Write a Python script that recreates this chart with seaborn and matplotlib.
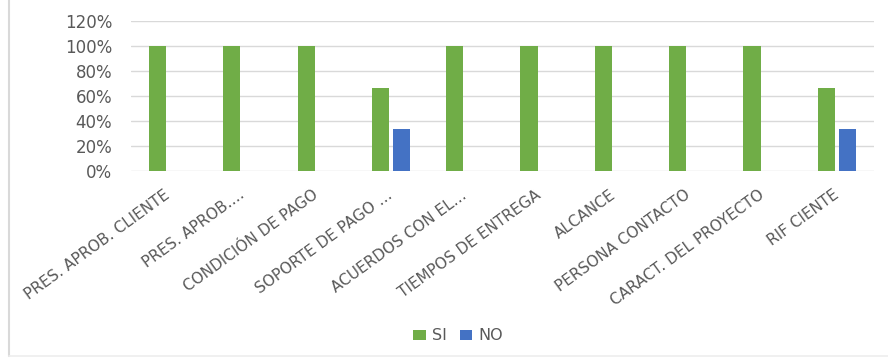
import numpy as np
import pandas as pd
import seaborn as sns
import matplotlib
matplotlib.use("Agg")
import matplotlib.pyplot as plt
from matplotlib.ticker import PercentFormatter
from matplotlib.patches import Patch
from matplotlib.lines import Line2D

# Checklist items and share of answers per item
categorias = [
    "PRES. APROB. CLIENTE",
    "PRES. APROB.…",
    "CONDICIÓN DE PAGO",
    "SOPORTE DE PAGO …",
    "ACUERDOS CON EL…",
    "TIEMPOS DE ENTREGA",
    "ALCANCE",
    "PERSONA CONTACTO",
    "CARACT. DEL PROYECTO",
    "RIF CIENTE",
]
si = [1.0, 1.0, 1.0, 0.667, 1.0, 1.0, 1.0, 1.0, 1.0, 0.667]
no = [0.0, 0.0, 0.0, 0.333, 0.0, 0.0, 0.0, 0.0, 0.0, 0.333]
series = ["SI", "NO"]
colores = {"SI": "#70AD47", "NO": "#4472C4"}
y_ticks = [0.0, 0.2, 0.4, 0.6, 0.8, 1.0, 1.2]

df = pd.DataFrame({
    "categoria": categorias * 2,
    "serie": ["SI"] * len(categorias) + ["NO"] * len(categorias),
    "valor": si + no,
})

sns.set_theme(style="white")
plt.rcParams["font.family"] = ["DejaVu Sans"]
texto = "#595959"
rejilla = "#D9D9D9"

W, H = 888, 358
fig = plt.figure(figsize=(W / 100, H / 100), dpi=100)
ax = fig.add_axes([131 / W, 1 - 171 / H, (874 - 131) / W, 150 / H])

sns.barplot(
    data=df, x="categoria", y="valor", hue="serie", hue_order=series,
    order=categorias, palette=colores, width=0.57, gap=0.19,
    saturation=1, legend=False, linewidth=0, ax=ax,
)

ax.set_xlim(-0.5, len(categorias) - 0.5)
ax.set_ylim(0, 1.2)
ax.set_yticks(y_ticks)
ax.yaxis.set_major_formatter(PercentFormatter(1.0, decimals=0))
ax.grid(axis="y", color=rejilla, linewidth=1)
ax.set_axisbelow(True)
for s in ax.spines.values():
    s.set_visible(False)
ax.set_xlabel("")
ax.set_ylabel("")
ax.tick_params(axis="y", length=0, pad=13.5, labelsize=12, labelcolor=texto)
ax.tick_params(axis="x", length=0, pad=16, labelsize=11, labelcolor=texto)
for lab in ax.get_xticklabels():
    lab.set_rotation(36)
    lab.set_ha("right")
    lab.set_va("center")
    lab.set_rotation_mode("anchor")

handles = [Patch(facecolor=colores[s], edgecolor="none", label=s) for s in series]
fig.legend(
    handles=handles, loc="center", bbox_to_anchor=(458 / W, 1 - 336 / H),
    ncol=2, frameon=False, fontsize=11.5, labelcolor=texto,
    handlelength=0.8, handleheight=0.6, handletextpad=0.35, columnspacing=0.8,
)

# Chart-area frame edges
fig.add_artist(Line2D([9 / W, 9 / W], [2 / H, 1], color=rejilla, linewidth=1.5))
fig.add_artist(Line2D([9 / W, 1], [2 / H, 2 / H], color="#EDEDED", linewidth=1.2))

fig.savefig("out.png", dpi=100)
